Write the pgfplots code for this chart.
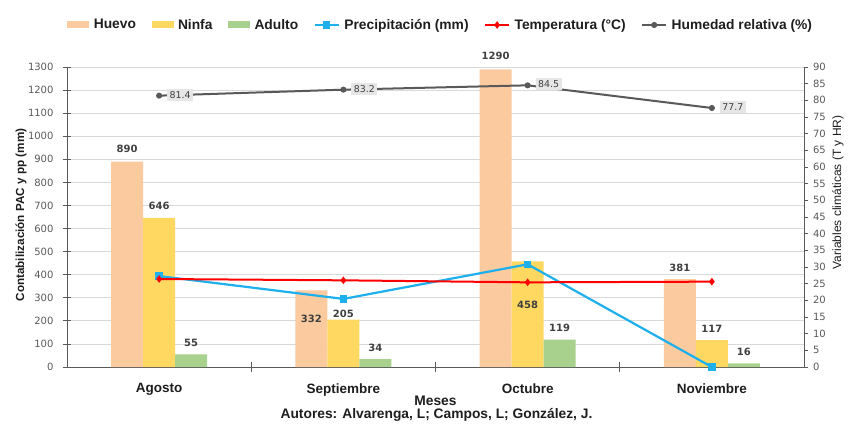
\documentclass[border=0pt]{standalone}
\usepackage{fontspec}
\setmainfont{Liberation Sans}
\newfontfamily\dejavu{DejaVu Sans}
\usepackage{pgfplots}
\usepackage{pgfplotstable}
\pgfplotsset{compat=1.18}
\pgfplotsset{/pgf/number format/1000 sep={}}

\definecolor{huevo}{RGB}{251,202,158}
\definecolor{ninfa}{RGB}{255,216,98}
\definecolor{adulto}{RGB}{169,209,142}
\definecolor{precip}{RGB}{30,176,236}
\definecolor{hum}{RGB}{89,89,89}
\definecolor{axgray}{RGB}{89,89,89}
\definecolor{gridgray}{RGB}{217,217,217}
\definecolor{lblgray}{RGB}{64,64,64}
\definecolor{boxgray}{RGB}{231,230,230}
\definecolor{txt}{RGB}{30,30,30}

% bar values with vertical offset (pt) of each label from the bar top
\pgfplotstableread{
x y dy
0 890 12.6
1 332 -28
2 1290 13
3 381 11
}\huevo
\pgfplotstableread{
x y dy
0 646 12
1 205 6
2 458 -44
3 117 11
}\ninfa
\pgfplotstableread{
x y dy
0 55 11
1 34 11
2 119 11.5
3 16 11
}\adulto
\pgfplotstableread{
x y
0 394
1 295
2 445
3 0
}\precip
\pgfplotstableread{
x y
0 26.4
1 26.0
2 25.4
3 25.6
}\temp
\pgfplotstableread{
x y
0 81.4
1 83.2
2 84.5
3 77.7
}\hum

\begin{document}
\begin{tikzpicture}[x=1pt,y=1pt]
\path[use as bounding box] (0,0) rectangle (849,442);

\pgfplotsset{
  barlab/.style={
    nodes near coords,
    visualization depends on={\thisrow{dy}\as\dy},
    every node near coord/.append style={anchor=center, xshift=#1, yshift=\dy pt,
      font=\dejavu\bfseries\fontsize{10}{12}\selectfont, text=lblgray},
  },
  patch/.style={legend image code/.code={\fill[##1] (0pt,-3.5pt) rectangle (22pt,3.5pt);}},
  lineleg/.style={legend image code/.code={\draw[mark repeat=2,mark phase=2,##1] plot coordinates {(0pt,0pt) (12pt,0pt) (24pt,0pt)};}},
}

\begin{axis}[
  at={(67pt,75pt)}, anchor=south west, scale only axis,
  width=737pt, height=300pt,
  xmin=-0.5, xmax=3.5, ymin=0, ymax=1300,
  ytick={0,100,...,1300},
  xtick={0,1,2,3},
  xticklabels={Agosto,Septiembre,Octubre,Noviembre},
  minor xtick={0.5,1.5,2.5},
  axis y line*=left, axis x line*=bottom,
  axis line style={draw=axgray, line width=0.8pt},
  tick style={draw=axgray, line width=0.8pt},
  major x tick style={draw=none},
  tick align=center, major tick length=8pt, minor tick length=9pt,
  ymajorgrids, grid style={draw=gridgray, line width=0.8pt},
  /pgf/number format/assume math mode=true,
  yticklabel style={font=\dejavu\fontsize{10}{12}\selectfont, text=axgray, xshift=-6pt},
  xticklabel style={font=\bfseries\fontsize{13.5}{15}\selectfont, text=txt, yshift=-9pt},
  legend style={at={(0.5067,1.14)}, anchor=center, draw=none, fill=none,
    legend columns=6, font=\bfseries\fontsize{13.8}{16}\selectfont, text=txt,
    /tikz/every odd column/.append style={column sep=3pt},
    /tikz/every even column/.append style={column sep=14pt},
    nodes={inner sep=1.5pt}},
]
\addplot[ybar, bar width=32pt, bar shift=-32pt, fill=huevo, draw=none, patch, barlab=-32pt] table[x=x,y=y] {\huevo};
\addlegendentry{Huevo}
\addplot[ybar, bar width=32pt, bar shift=0pt, fill=ninfa, draw=none, patch, barlab=0pt] table[x=x,y=y] {\ninfa};
\addlegendentry{Ninfa}
\addplot[ybar, bar width=32pt, bar shift=32pt, fill=adulto, draw=none, patch, barlab=32pt] table[x=x,y=y] {\adulto};
\addlegendentry{Adulto}
\addplot[precip, line width=2.2pt, mark=square*, mark size=2.6pt, lineleg] table[x=x,y=y] {\precip};
\addlegendentry{Precipitación (mm)}
\addlegendimage{red, line width=2pt, mark=diamond*, mark size=2.2pt, lineleg}
\addlegendentry{Temperatura (°C)}
\addlegendimage{hum, line width=2pt, mark=*, mark size=2pt, lineleg}
\addlegendentry{Humedad relativa (\%)}
\end{axis}

\begin{axis}[
  at={(67pt,75pt)}, anchor=south west, scale only axis,
  width=737pt, height=300pt,
  xmin=-0.5, xmax=3.5, ymin=0, ymax=90,
  ytick={0,5,...,90},
  axis y line*=right, axis x line=none,
  axis line style={draw=axgray, line width=0.8pt},
  tick style={draw=axgray, line width=0.8pt},
  tick align=outside, major tick length=4pt,
  /pgf/number format/assume math mode=true,
  yticklabel style={font=\dejavu\fontsize{10}{12}\selectfont, text=axgray, xshift=1.5pt},
]
\addplot[red, line width=2pt, mark=diamond*, mark size=2.2pt] table[x=x,y=y] {\temp};
\addplot[hum, line width=2pt, mark=*, mark size=2pt,
  nodes near coords={\pgfmathprintnumber[fixed,precision=1,fixed zerofill]{\pgfplotspointmeta}},
  every node near coord/.append style={anchor=west, xshift=7pt, yshift=1pt, fill=boxgray,
    inner sep=2.5pt, font=\dejavu\fontsize{9.4}{11}\selectfont, text=lblgray}]
  table[x=x,y=y] {\hum};
\end{axis}

\node[rotate=90, font=\bfseries\fontsize{11.7}{14}\selectfont, text=txt] at (21,227) {Contabilización PAC y pp (mm)};
\node[rotate=90, font=\fontsize{12}{14}\selectfont, text=txt] at (838,249.5) {Variables climáticas (T y HR)};
\node[anchor=base, font=\bfseries\fontsize{13.8}{16}\selectfont, text=txt] at (435.5,36.3) {Meses};
\node[anchor=base, font=\bfseries\fontsize{13.8}{16}\selectfont, text=txt] at (436.5,23.7) {Autores: Alvarenga, L; Campos, L; González, J.};
\end{tikzpicture}
\end{document}
